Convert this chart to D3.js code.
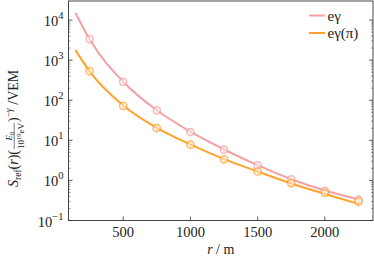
<html lang='eng'>
<head>
    <title>S_ref vs r</title>
    <script src="https://d3js.org/d3.v7.min.js" charset="utf-8"></script>
    <style>
        body { margin: 0; background: #fff; }
        text { font-family: "Liberation Serif", "DejaVu Serif", serif; fill: #222; }
    </style>
</head>
<body>
    <script>
        // data
        var seriesNames = ['eγ', 'eγ(π)'];
        var pointR = [250, 500, 750, 1000, 1250, 1500, 1750, 2000, 2250];
        var pinkPoints = [3350, 287, 56, 16.1, 5.85, 2.37, 1.06, 0.552, 0.33];
        var orangePoints = [531, 72, 20.3, 7.8, 3.35, 1.68, 0.856, 0.49, 0.3];
        var pinkErr = [700, 55, 10, 2.6, 0.9, 0.35, 0.15, 0.08, 0.06];
        var orangeErr = [90, 12, 3.4, 1.3, 0.55, 0.28, 0.15, 0.09, 0.08];
        var lineR = [145, 250, 500, 750, 1000, 1250, 1500, 1750, 2000, 2250];
        var pinkLine = [15000, 3300, 290, 56, 16.4, 5.9, 2.4, 1.07, 0.56, 0.335];
        var orangeLine = [1780, 525, 74, 20.5, 7.9, 3.4, 1.67, 0.84, 0.46, 0.26];
        var xTicks = [500, 1000, 1500, 2000];
        var yTicks = [-1, 0, 1, 2, 3, 4];

        var colors = ['#f4a1a5', '#ffa22e'];

        // canvas
        var width = 374, height = 259;
        var margin = {left: 68.5, right: 1, top: 1, bottom: 38.5};

        var svg = d3.select('body').append('svg')
            .attr('width', width).attr('height', height);

        var x = d3.scaleLinear().domain([93, 2358]).range([margin.left, width - margin.right]);
        var y = d3.scaleLog().domain([0.1, Math.pow(10, 4.475)]).range([height - margin.bottom, margin.top]);

        var g = svg.append('g');

        // ticks
        var bottom = height - margin.bottom, right = width - margin.right;
        xTicks.forEach(function (t) {
            g.append('line').attr('x1', x(t)).attr('x2', x(t)).attr('y1', bottom).attr('y2', bottom - 4)
                .attr('stroke', '#333').attr('stroke-width', 0.8);
            g.append('text').attr('x', x(t)).attr('y', bottom + 16.5).attr('text-anchor', 'middle')
                .attr('font-size', 14.5).text(t);
        });
        yTicks.forEach(function (e) {
            var v = Math.pow(10, e);
            [margin.left, right].forEach(function (xx, i) {
                g.append('line').attr('x1', xx).attr('x2', i ? xx - 4 : xx + 4).attr('y1', y(v)).attr('y2', y(v))
                    .attr('stroke', '#333').attr('stroke-width', 0.8);
            });
            if (e < 4) {
                for (var k = 2; k < 10; k++) {
                    var mv = k * v;
                    [margin.left, right].forEach(function (xx, i) {
                        g.append('line').attr('x1', xx).attr('x2', i ? xx - 2 : xx + 2).attr('y1', y(mv)).attr('y2', y(mv))
                            .attr('stroke', '#555').attr('stroke-width', 0.6);
                    });
                }
            }
            var lab = g.append('text').attr('x', margin.left - 5).attr('y', y(v) + 6)
                .attr('text-anchor', 'end').attr('font-size', 14.5);
            lab.append('tspan').text('10');
            lab.append('tspan').attr('dy', -7).attr('font-size', 10.5).text(e < 0 ? '−' + (-e) : e);
        });

        // lines
        var line = d3.line().x(function (d) { return x(d[0]); }).y(function (d) { return y(d[1]); })
            .curve(d3.curveMonotoneX);
        [pinkLine, orangeLine].forEach(function (vals, i) {
            g.append('path').datum(d3.zip(lineR, vals))
                .attr('fill', 'none').attr('stroke', colors[i]).attr('stroke-width', 2).attr('d', line);
        });

        // markers with error bars
        [[pinkPoints, pinkErr], [orangePoints, orangeErr]].forEach(function (s, i) {
            var pts = d3.zip(pointR, s[0], s[1]);
            var mg = g.append('g').attr('opacity', 0.75);
            mg.selectAll('line.err').data(pts).enter().append('line')
                .attr('x1', function (d) { return x(d[0]); }).attr('x2', function (d) { return x(d[0]); })
                .attr('y1', function (d) { return y(d[1] + d[2]); })
                .attr('y2', function (d) { return y(Math.max(d[1] - d[2], 0.05)); })
                .attr('stroke', colors[i]).attr('stroke-width', 1.5);
            mg.selectAll('circle').data(pts).enter().append('circle')
                .attr('cx', function (d) { return x(d[0]); }).attr('cy', function (d) { return y(d[1]); })
                .attr('r', 3.6).attr('fill', '#fff').attr('fill-opacity', 0.6)
                .attr('stroke', colors[i]).attr('stroke-width', 1.5);
        });

        // frame
        svg.append('rect').attr('x', margin.left).attr('y', margin.top)
            .attr('width', right - margin.left).attr('height', bottom - margin.top)
            .attr('fill', 'none').attr('stroke', '#333').attr('stroke-width', 0.9);

        // legend
        seriesNames.forEach(function (n, i) {
            var ly = 15.5 + i * 17.5;
            svg.append('line').attr('x1', 309).attr('x2', 325).attr('y1', ly).attr('y2', ly)
                .attr('stroke', colors[i]).attr('stroke-width', 2);
            svg.append('text').attr('x', 327.5).attr('y', ly + 5).attr('font-size', 15).text(n);
        });

        // x label
        var xl = svg.append('text').attr('x', (margin.left + right) / 2).attr('y', 254)
            .attr('text-anchor', 'middle').attr('font-size', 14);
        xl.append('tspan').attr('font-style', 'italic').text('r');
        xl.append('tspan').text(' / m');

        // y label (rotated, built piece by piece)
        var yl = svg.append('g').attr('transform', 'translate(18,187) rotate(-90)');
        var t1 = yl.append('text').attr('x', 0).attr('y', 0).attr('font-size', 14);
        t1.append('tspan').attr('font-style', 'italic').text('S');
        t1.append('tspan').attr('dy', 3).attr('font-size', 9.5).text('ref');
        t1.append('tspan').attr('dy', -3).text('(');
        t1.append('tspan').attr('font-style', 'italic').text('r');
        t1.append('tspan').text(')(');
        var w1 = t1.node().getComputedTextLength();
        var num = yl.append('text').attr('y', -6.5).attr('font-size', 9).attr('text-anchor', 'middle');
        num.append('tspan').attr('font-style', 'italic').text('E');
        num.append('tspan').attr('dy', 2).attr('font-size', 6.5).text('0');
        var den = yl.append('text').attr('y', 6).attr('font-size', 9).attr('text-anchor', 'middle');
        den.append('tspan').text('10');
        den.append('tspan').attr('dy', -3).attr('font-size', 6.5).text('19');
        den.append('tspan').attr('dy', 3).text('eV');
        var fw = Math.max(num.node().getComputedTextLength(), den.node().getComputedTextLength()) + 2;
        num.attr('x', w1 + fw / 2);
        den.attr('x', w1 + fw / 2);
        yl.append('line').attr('x1', w1 + 1).attr('x2', w1 + fw - 1).attr('y1', -3.8).attr('y2', -3.8)
            .attr('stroke', '#222').attr('stroke-width', 0.6);
        var t2 = yl.append('text').attr('x', w1 + fw).attr('y', 0).attr('font-size', 14);
        t2.append('tspan').text(')');
        t2.append('tspan').attr('dy', -6.5).attr('font-size', 9.5).text('−');
        t2.append('tspan').attr('font-size', 9.5).attr('font-style', 'italic').text('γ');
        t2.append('tspan').attr('dy', 6.5).text(' /VEM');
    </script>
</body>
</html>
